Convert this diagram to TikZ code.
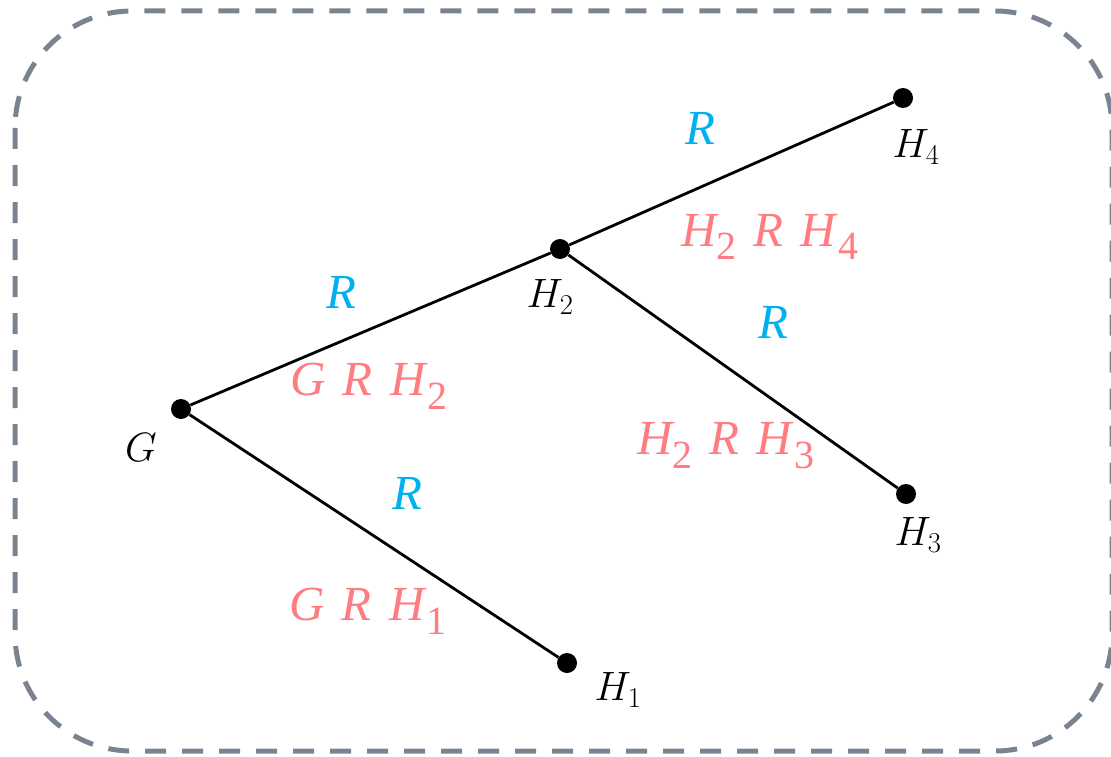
\RequirePackage{fix-cm}
\documentclass[tikz,border=0pt]{standalone}
\usepackage{fontspec}
\newfontfamily\redfont{Liberation Serif}
\definecolor{framegray}{HTML}{7A8490}
\definecolor{lblblue}{HTML}{00B0F0}
\definecolor{lblred}{HTML}{FF7C80}
\newcommand{\rsub}[1]{\raisebox{-0.28em}{\fontsize{40}{40}\selectfont\upshape #1}}
\newcommand{\rel}[3]{\textit{#1}\hspace{0.35em}\textit{R}\hspace{0.35em}\textit{#2}\rsub{#3}}
\begin{document}
\begin{tikzpicture}[x=1pt,y=-1pt,
  dot/.style={circle,fill=black,inner sep=0pt,minimum size=20pt},
  edge/.style={line width=2.8pt,black},
  blk/.style={inner sep=0pt,font=\fontsize{41}{41}\selectfont},
  bluelbl/.style={inner sep=0pt,text=lblblue,font=\redfont\fontsize{49}{49}\selectfont\itshape},
  redlbl/.style={inner sep=0pt,text=lblred,font=\redfont\fontsize{49}{49}\selectfont}]
\useasboundingbox (0,0) rectangle (1111,757);
\draw[framegray,line width=5pt,dash pattern=on 21pt off 16pt,rounded corners=117pt] (15,11) rectangle (1112,751);
\node[dot] (G) at (181,409) {};
\node[dot] (H2) at (560,249) {};
\node[dot] (H4) at (903,98) {};
\node[dot] (H3) at (906,494) {};
\node[dot] (H1) at (567,663) {};
\draw[edge] (G) -- (H2);
\draw[edge] (H2) -- (H4);
\draw[edge] (H2) -- (H3);
\draw[edge] (G) -- (H1);
\node[blk] (lG) at (141,447) {$G$};
\node[blk] (lH2) at (550,297) {$H_2$};
\node[blk] (lH4) at (916,147) {$H_4$};
\node[blk] (lH3) at (918,535) {$H_3$};
\node[blk] (lH1) at (618,690) {$H_1$};
\node[bluelbl] (r1) at (341,292) {R};
\node[bluelbl] (r2) at (700,128) {R};
\node[bluelbl] (r3) at (773,322) {R};
\node[bluelbl] (r4) at (407,493) {R};
\node[redlbl] (t1) at (369,386) {\rel{G}{H}{2}};
\node[redlbl] (t2) at (770,237) {\rel{H\rsub{2}}{H}{4}};
\node[redlbl] (t3) at (726,446) {\rel{H\rsub{2}}{H}{3}};
\node[redlbl] (t4) at (368,611) {\rel{G}{H}{1}};
\end{tikzpicture}
\end{document}
